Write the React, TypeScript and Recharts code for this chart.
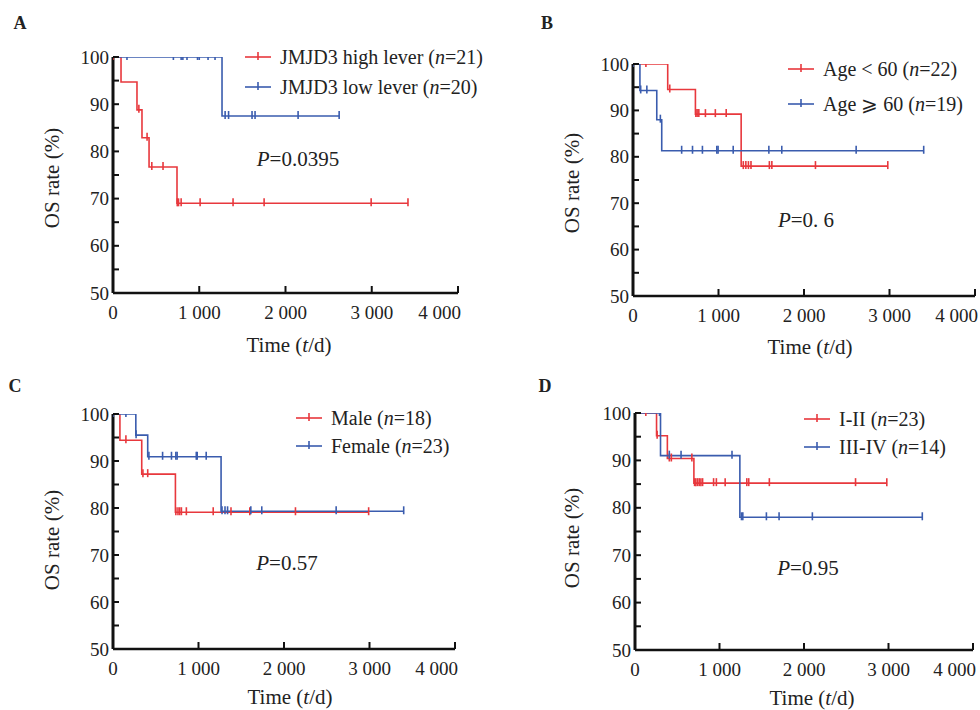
import { LineChart, Line, XAxis, YAxis } from 'recharts';

const RED = '#e8383d';
const BLUE = '#3a5cae';
const FONT = "'Liberation Serif', 'Times New Roman', serif";

const X_TICKS = [0, 1000, 2000, 3000, 4000];
const Y_TICKS = [50, 55, 60, 65, 70, 75, 80, 85, 90, 95, 100];

type Step = [number, number];

// A: JMJD3 expression
const aHighSteps: Step[] = [[0, 100], [93, 94.7], [278, 88.8], [336, 82.9], [418, 76.7], [742, 69.0]];
const aHighCensor = [0, 300, 395, 450, 580, 745, 760, 790, 1010, 1392, 1752, 2993, 3420];
const aLowSteps: Step[] = [[0, 100], [1264, 87.5]];
const aLowCensor = [162, 700, 790, 810, 858, 980, 1000, 1102, 1183, 1300, 1340, 1612, 1647, 2146, 2622];

// B: age
const bYoungSteps: Step[] = [[0, 100], [406, 94.5], [730, 89.2], [1265, 78]];
const bYoungCensor = [151, 430, 735, 750, 770, 847, 963, 1090, 1290, 1320, 1350, 1380, 1595, 1624, 2134, 2980];
const bOldSteps: Step[] = [[0, 100], [81, 94.3], [278, 88], [336, 81.3]];
const bOldCensor = [0, 90, 162, 320, 569, 696, 812, 980, 995, 1172, 1589, 1740, 2610, 3400];

// C: sex
const cMaleSteps: Step[] = [[0, 100], [81, 94.4], [336, 87.2], [730, 79.1]];
const cMaleCensor = [151, 350, 406, 735, 760, 780, 800, 858, 1172, 1380, 1600, 2134, 2990];
const cFemaleSteps: Step[] = [[0, 100], [267, 95.5], [406, 90.9], [1264, 79.3]];
const cFemaleCensor = [0, 151, 270, 420, 580, 684, 735, 750, 974, 985, 1090, 1275, 1310, 1340, 1612, 1740, 2610, 3400];

// D: stage
const dEarlySteps: Step[] = [[0, 100], [255, 95.2], [383, 90.4], [697, 85.2]];
const dEarlyCensor = [128, 262, 406, 430, 673, 705, 720, 740, 760, 780, 800, 930, 963, 1067, 1323, 1346, 1590, 2610, 2980];
const dLateSteps: Step[] = [[0, 100], [302, 91], [1241, 78]];
const dLateCensor = [290, 406, 545, 1148, 1260, 1276, 1555, 1705, 2099, 3400];

// step points + censor marks (value taken from the step it falls on)
function buildCurve(steps: Step[], censors: number[]) {
  const pts = steps.map(([t, s]) => ({ t, s, c: false }));
  censors.forEach((t) => {
    let s = steps[0][1];
    steps.forEach(([st, sv]) => {
      if (st <= t) s = sv;
    });
    pts.push({ t, s, c: true });
  });
  return pts.sort((a, b) => a.t - b.t || (a.c ? 1 : 0) - (b.c ? 1 : 0));
}

const censorDot = (color: string) => (p: any) =>
  p.payload && p.payload.c ? (
    <line key={`c${p.index}`} x1={p.cx} x2={p.cx} y1={p.cy - 5} y2={p.cy + 3} stroke={color} strokeWidth={1.6} />
  ) : (
    <g key={`n${p.index}`} />
  );

const panels = [
  {
    id: 'A', x: 0, y: 0,
    box: { l: 113, r: 458, t: 57, b: 293 },
    series: [
      { label: 'JMJD3 high lever', n: 21, color: RED, data: buildCurve(aHighSteps, aHighCensor) },
      { label: 'JMJD3 low lever', n: 20, color: BLUE, data: buildCurve(aLowSteps, aLowCensor) },
    ],
    p: '0.0395',
    tag: [20, 23], legend: [245, 57, 30], pPos: [298, 159], yLab: [52, 178], xLab: [289, 345],
  },
  {
    id: 'B', x: 490, y: 0,
    box: { l: 143, r: 485, t: 64, b: 296 },
    series: [
      { label: 'Age < 60', n: 22, color: RED, data: buildCurve(bYoungSteps, bYoungCensor) },
      { label: 'Age \u2A7E 60', n: 19, color: BLUE, data: buildCurve(bOldSteps, bOldCensor) },
    ],
    p: '0. 6',
    tag: [57, 23], legend: [298, 69, 35], pPos: [316, 220], yLab: [82, 183], xLab: [320, 347],
  },
  {
    id: 'C', x: 0, y: 355,
    box: { l: 113, r: 455, t: 59, b: 294 },
    series: [
      { label: 'Male', n: 18, color: RED, data: buildCurve(cMaleSteps, cMaleCensor) },
      { label: 'Female', n: 23, color: BLUE, data: buildCurve(cFemaleSteps, cFemaleCensor) },
    ],
    p: '0.57',
    tag: [15, 31], legend: [296, 63, 28], pPos: [287, 208], yLab: [52, 185], xLab: [290, 342],
  },
  {
    id: 'D', x: 490, y: 355,
    box: { l: 145, r: 483, t: 58, b: 295 },
    series: [
      { label: 'I-II', n: 23, color: RED, data: buildCurve(dEarlySteps, dEarlyCensor) },
      { label: 'III-IV', n: 14, color: BLUE, data: buildCurve(dLateSteps, dLateCensor) },
    ],
    p: '0.95',
    tag: [55, 31], legend: [314, 64, 28], pPos: [318, 213], yLab: [82, 183], xLab: [322, 343],
  },
];

const W = 490;
const H = 355;
const Y_AXIS_W = 40;
const X_AXIS_H = 40;

function Panel({ cfg }: { cfg: (typeof panels)[number] }) {
  const { box } = cfg;
  const margin = { top: box.t, right: W - box.r, bottom: H - box.b - X_AXIS_H, left: box.l - Y_AXIS_W };

  const yTick = (p: any) => {
    const v = p.payload.value;
    return (
      <g>
        {v !== 50 && <line x1={box.l} x2={box.l + 6} y1={p.y} y2={p.y} stroke="#111" strokeWidth={2} />}
        {v % 10 === 0 && (
          <text x={box.l - 4} y={p.y} dy="0.35em" textAnchor="end" fontFamily={FONT} fontSize={19} fill="#222">
            {v}
          </text>
        )}
      </g>
    );
  };

  const xTick = (p: any) => {
    const v = p.payload.value;
    const last = v === 4000;
    return (
      <g>
        {v !== 0 && <line x1={p.x} x2={p.x} y1={box.b} y2={box.b - 7} stroke="#111" strokeWidth={2} />}
        <text
          x={last ? p.x + 3 : p.x}
          y={box.b + 19}
          dy="0.35em"
          textAnchor={last ? 'end' : 'middle'}
          fontFamily={FONT}
          fontSize={19}
          fill="#222"
        >
          {v === 0 ? '0' : `${v / 1000} 000`}
        </text>
      </g>
    );
  };

  const abs = (x: number, y: number, extra: any = {}) => ({
    position: 'absolute' as const,
    left: x,
    top: y,
    whiteSpace: 'nowrap' as const,
    fontFamily: FONT,
    color: '#222',
    ...extra,
  });

  return (
    <div style={{ position: 'absolute', left: cfg.x, top: cfg.y, width: W, height: H }}>
      <LineChart width={W} height={H} margin={margin}>
        <XAxis
          type="number"
          dataKey="t"
          domain={[0, 4000]}
          ticks={X_TICKS}
          interval={0}
          allowDataOverflow
          height={X_AXIS_H}
          tickSize={0}
          tickLine={false}
          tick={xTick}
          axisLine={{ stroke: '#111', strokeWidth: 2.5 }}
        />
        <YAxis
          type="number"
          domain={[50, 100]}
          ticks={Y_TICKS}
          interval={0}
          allowDataOverflow
          width={Y_AXIS_W}
          tickSize={0}
          tickLine={false}
          tick={yTick}
          axisLine={{ stroke: '#111', strokeWidth: 3 }}
        />
        {cfg.series.map((s) => (
          <Line
            key={s.label}
            data={s.data}
            dataKey="s"
            type="stepAfter"
            stroke={s.color}
            strokeWidth={1.6}
            dot={censorDot(s.color)}
            activeDot={false}
            isAnimationActive={false}
          />
        ))}
      </LineChart>

      <div style={abs(cfg.tag[0], cfg.tag[1], { fontWeight: 'bold', fontSize: 18, transform: 'translate(-50%,-50%)' })}>
        {cfg.id}
      </div>

      {cfg.series.map((s, i) => (
        <div
          key={s.label}
          style={abs(cfg.legend[0], cfg.legend[1] + i * cfg.legend[2] - 12, {
            height: 24,
            display: 'flex',
            alignItems: 'center',
            fontSize: 20,
          })}
        >
          <svg width={26} height={12} style={{ marginRight: 9 }}>
            <line x1={0} x2={26} y1={6} y2={6} stroke={s.color} strokeWidth={1.6} />
            <line x1={13} x2={13} y1={1} y2={9} stroke={s.color} strokeWidth={1.6} />
          </svg>
          <span>
            {s.label} (<i>n</i>={s.n})
          </span>
        </div>
      ))}

      <div style={abs(cfg.pPos[0], cfg.pPos[1], { fontSize: 21, transform: 'translate(-50%,-50%)' })}>
        <i>P</i>={cfg.p}
      </div>

      <div style={abs(cfg.yLab[0], cfg.yLab[1], { fontSize: 21, transform: 'translate(-50%,-50%) rotate(-90deg)' })}>
        OS rate (%)
      </div>

      <div style={abs(cfg.xLab[0], cfg.xLab[1], { fontSize: 21, transform: 'translate(-50%,-50%)' })}>
        Time (<i>t</i>/d)
      </div>
    </div>
  );
}

export default function App() {
  return (
    <div style={{ position: 'absolute', left: 0, top: 0, width: 980, height: 710, background: '#fff' }}>
      {panels.map((p) => (
        <Panel key={p.id} cfg={p} />
      ))}
    </div>
  );
}
